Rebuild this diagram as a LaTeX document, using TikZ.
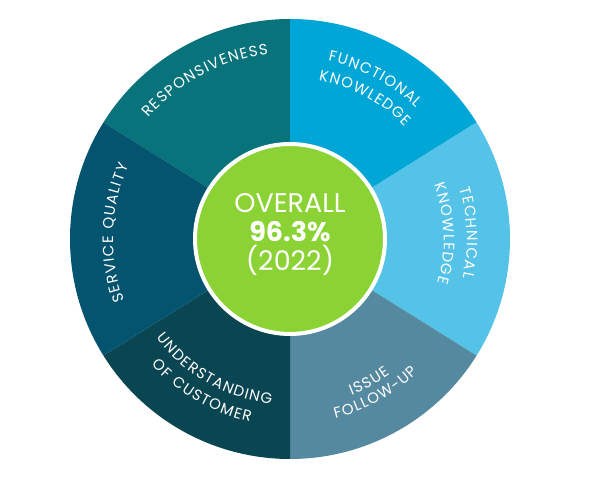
\documentclass[tikz,border=0pt]{standalone}
\usepackage{fontspec}
\setmainfont{Poppins}
\usepackage{tikz}
\usepackage{xcolor}
\usetikzlibrary{calc, decorations.text}
\definecolor{cResp}{RGB}{8,115,122}
\definecolor{cFunc}{RGB}{0,166,214}
\definecolor{cTech}{RGB}{85,195,232}
\definecolor{cIssue}{RGB}{85,137,159}
\definecolor{cUnder}{RGB}{10,69,82}
\definecolor{cServ}{RGB}{4,83,111}
\definecolor{cGreen}{RGB}{139,211,52}
\tikzset{
	% curved segment labels, slightly tracked
	arclabel/.style={font=\fontsize{15}{18}\selectfont, decorate,
		decoration={text effects along path, text={#1}, text align=center,
			text effects/.cd, text along path,
			characters={text=white, inner xsep=0.6pt, inner ysep=0pt},
			character widths={inner xsep=0.6pt}}},
	hub/.style     ={circle, fill=cGreen, draw=white, line width=4pt, minimum size=190pt, inner sep=0pt},
	hubtext/.style ={align=center, text=white, font=\fontsize{27}{29}\selectfont},
}

\begin{document}
\begin{tikzpicture}[x=1pt, y=1pt]
	\useasboundingbox (0,0) rectangle (590,480);
	\coordinate (c) at (290,241);
	% wheel segments
	\foreach \a/\b/\col in {90/148/cResp, 32/90/cFunc, -32/32/cTech, -90/-32/cIssue, -148/-90/cUnder, 148/212/cServ}
		\fill[\col] (c) -- ($(c)+(\a:220)$) arc[start angle=\a, end angle=\b, radius=220] -- cycle;
	\node[hub] (hub) at (c) {};
	\node[hubtext] (overall) at ($(hub.center)+(0,5)$) {OVERALL\\\textbf{96.3\%}\\(2022)};
	% labels, upper half clockwise
	\path[arclabel=RESPONSIVENESS] ($(c)+(158:186)$) arc[start angle=158, end angle=78, radius=186];
	\path[arclabel=FUNCTIONAL] ($(c)+(102:182)$) arc[start angle=102, end angle=22, radius=182];
	\path[arclabel=KNOWLEDGE] ($(c)+(102:161)$) arc[start angle=102, end angle=22, radius=161];
	\path[arclabel=TECHNICAL] ($(c)+(42:177)$) arc[start angle=42, end angle=-38, radius=177];
	\path[arclabel=KNOWLEDGE] ($(c)+(42:154)$) arc[start angle=42, end angle=-38, radius=154];
	\path[arclabel=SERVICE QUALITY] ($(c)+(218:177)$) arc[start angle=218, end angle=138, radius=177];
	% labels, lower half counter-clockwise
	\path[arclabel=UNDERSTANDING] ($(c)+(200:166)$) arc[start angle=200, end angle=280, radius=166];
	\path[arclabel=OF CUSTOMER] ($(c)+(200:187)$) arc[start angle=200, end angle=280, radius=187];
	\path[arclabel=ISSUE] ($(c)+(259:168)$) arc[start angle=259, end angle=339, radius=168];
	\path[arclabel=FOLLOW-UP] ($(c)+(259:185)$) arc[start angle=259, end angle=339, radius=185];
\end{tikzpicture}
\end{document}
